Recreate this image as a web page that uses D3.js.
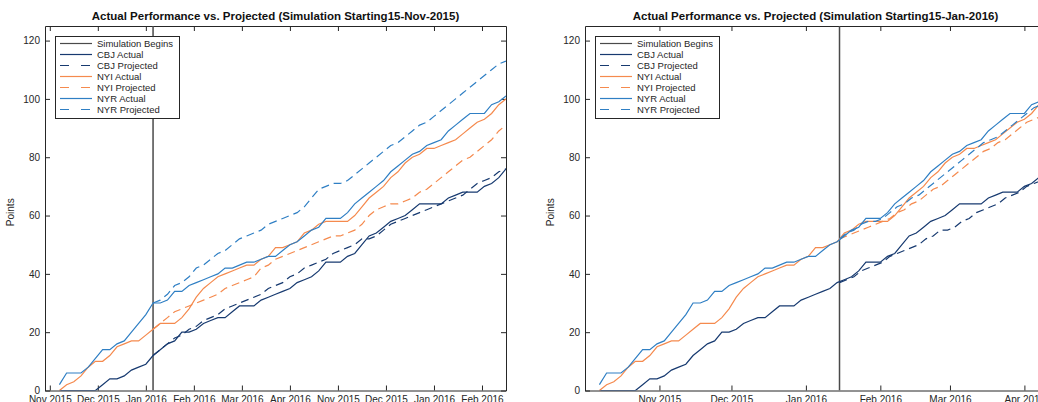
<!DOCTYPE html>
<html>
<head>
<meta charset="utf-8">
<script src="https://cdn.jsdelivr.net/npm/d3@7"></script>
<style>
  body { margin: 0; background: #fff; }
  text { font-family: "Liberation Sans", Arial, Helvetica, sans-serif; }
</style>
</head>
<body>
<script>
// ---- data (cumulative points, sampled every 3 days) ----
const teams = ["CBJ", "NYI", "NYR"];
const seasonStart = "2015-10-07";
const cbjActual = [0,0,0,0,0,0,2,4,4,5, 7,8,9,12,14,16,17,20,20,21, 23,24,25,25,27,29,29,29,31,32,
                   33,34,35,37,38,39,41,44,44,44, 46,47,50,53,54,56,58,59,60,62, 64,64,64,64,66,67,68,68,68,70, 71,73,76];
const nyiActual = [0,2,3,5,8,10,10,12,15,16, 17,17,19,21,23,23,23,25,28,32, 35,37,39,40,41,42,43,43,45,46,
                   49,49,50,51,54,55,57,58,58,58, 58,60,63,66,68,70,73,75,78,80, 81,83,83,84,85,86,88,90,92,93, 95,98,100];
const nyrActual = [2,6,6,6,8,11,14,14,16,17, 20,23,26,30,30,31,34,34,36,37, 38,39,40,42,42,43,44,44,45,46,
                   46,48,50,51,53,55,56,59,59,59, 61,64,66,68,70,72,75,77,79,81, 82,84,85,86,89,91,93,95,95,95, 98,99,101];

// simulation starting 15-Nov-2015
const simStartA = "2015-11-15";
const cbjProjA = [12,14,16,18,19,21,22,24,25,26, 28,29,30,31,32,33,35,36,37,39, 40,42,43,44,45,47,48,49,50,52,
                  52,53,55,57,58,59,60,61,62,63, 64,65,66,67,69,71,72,73,75,76];
const nyiProjA = [21,23,25,27,28,29,30,31,32,33, 35,36,37,38,39,42,43,45,46,47, 48,49,50,51,52,53,53,54,55,57,
                  60,62,63,64,64,65,66,68,69,71, 73,75,77,79,80,82,84,86,89,91];
const nyrProjA = [30,31,33,36,37,39,42,43,45,47, 48,50,52,53,54,55,57,58,59,60, 61,63,66,69,70,71,71,72,74,76,
                  78,80,82,84,85,87,89,91,92,94, 96,98,100,102,104,106,108,110,112,113];

// simulation starting 15-Jan-2016
const simStartB = "2016-01-15";
const cbjProjB = [37,38,39,41,42,43,44,46,47,48, 49,50,52,53,55,55,56,58,59,61, 62,63,64,66,67,68,70,71,72];
const nyiProjB = [52,53,54,55,56,57,58,59,61,62, 64,65,67,69,70,72,74,76,78,80, 82,83,85,86,88,90,92,93,94];
const nyrProjB = [52,54,55,57,58,58,59,61,63,64, 66,67,69,71,73,75,77,79,81,83, 85,86,87,89,91,93,95,97,98];

const yTicks = [0, 20, 40, 60, 80, 100, 120];
const leftTickStart = "2015-10-03";
const leftTickLabels = ["Nov 2015","Dec 2015","Jan 2016","Feb 2016","Mar 2016","Apr 2016",
                        "Nov 2015","Dec 2015","Jan 2016","Feb 2016"];
const rightTickMonths = ["2015-11-01","2015-12-01","2016-01-01","2016-02-01","2016-03-01","2016-04-01"];
const legendLabels = ["Simulation Begins","CBJ Actual","CBJ Projected","NYI Actual","NYI Projected","NYR Actual","NYR Projected"];

// ---- setup ----
const W = 1038, H = 402;
const parse = d3.timeParse("%Y-%m-%d");
const colors = { CBJ: "#173a70", NYI: "#f58a4e", NYR: "#2f7fc4" };
const simColor = "#4a4a4a";
const axisColor = "#262626";
const dash = "8,5";

function dates(start, n) {
  return d3.range(n).map(i => d3.timeDay.offset(parse(start), i * 3));
}

const actual = { CBJ: cbjActual, NYI: nyiActual, NYR: nyrActual };
const actualDates = dates(seasonStart, cbjActual.length);

const panels = [
  {
    left: 45, title: "Actual Performance vs. Projected (Simulation Starting15-Nov-2015)",
    sim: simStartA, proj: { CBJ: cbjProjA, NYI: nyiProjA, NYR: nyrProjA },
    tickValues: d3.range(leftTickLabels.length).map(i => d3.timeDay.offset(parse(leftTickStart), 20 * i)),
    tickFormat: (d, i) => leftTickLabels[i]
  },
  {
    left: 585, title: "Actual Performance vs. Projected (Simulation Starting15-Jan-2016)",
    sim: simStartB, proj: { CBJ: cbjProjB, NYI: nyiProjB, NYR: nyrProjB },
    tickValues: rightTickMonths.map(parse),
    tickFormat: d3.timeFormat("%b %Y")
  }
];

const plotW = 461, plotTop = 26, plotBottom = 390.5;

const svg = d3.select("body").append("svg")
  .attr("width", W).attr("height", H)
  .style("display", "block");

panels.forEach((p, pi) => {
  const x = d3.scaleTime()
    .domain([parse("2015-10-01"), parse("2016-04-10")])
    .range([p.left, p.left + plotW]);
  const y = d3.scaleLinear().domain([0, 125]).range([plotBottom, plotTop]);

  const g = svg.append("g").attr("class", "panel");

  // clip
  const clipId = "clip" + pi;
  svg.append("clipPath").attr("id", clipId)
    .append("rect").attr("x", p.left).attr("y", plotTop)
    .attr("width", plotW).attr("height", plotBottom - plotTop);

  // axes (MATLAB style, inward ticks on all four sides)
  const styleAxis = sel => {
    sel.select(".domain").attr("stroke", axisColor).attr("stroke-width", 1);
    sel.selectAll(".tick line").attr("stroke", axisColor);
    sel.selectAll("text").attr("fill", axisColor).style("font-size", "10px")
      .style("font-family", '"Liberation Sans", Arial, sans-serif');
  };

  g.append("g")
    .attr("transform", `translate(0,${plotBottom})`)
    .call(d3.axisBottom(x).tickValues(p.tickValues).tickFormat(p.tickFormat)
      .tickSizeInner(-5).tickSizeOuter(0).tickPadding(5))
    .call(styleAxis);
  g.append("g")
    .attr("transform", `translate(0,${plotTop})`)
    .call(d3.axisTop(x).tickValues(p.tickValues).tickFormat("")
      .tickSizeInner(-5).tickSizeOuter(0))
    .call(styleAxis);
  g.append("g")
    .attr("transform", `translate(${p.left},0)`)
    .call(d3.axisLeft(y).tickValues(yTicks).tickSizeInner(-5).tickSizeOuter(0).tickPadding(5))
    .call(styleAxis);
  g.append("g")
    .attr("transform", `translate(${p.left + plotW},0)`)
    .call(d3.axisRight(y).tickValues(yTicks).tickFormat("").tickSizeInner(-5).tickSizeOuter(0))
    .call(styleAxis);

  // y label
  g.append("text")
    .attr("transform", `translate(${p.left - 31},${(plotTop + plotBottom) / 2 + 4}) rotate(-90)`)
    .attr("text-anchor", "middle")
    .attr("fill", axisColor)
    .style("font-size", "10px")
    .text("Points");

  // title
  g.append("text")
    .attr("x", p.left + plotW / 2).attr("y", 20)
    .attr("text-anchor", "middle")
    .attr("fill", "#111")
    .style("font-size", "11.5px").style("font-weight", "bold")
    .text(p.title);

  const plot = g.append("g").attr("clip-path", `url(#${clipId})`);

  // simulation begins
  const simDate = parse(p.sim);
  plot.append("line")
    .attr("x1", x(simDate)).attr("x2", x(simDate))
    .attr("y1", y(0)).attr("y2", plotTop)
    .attr("stroke", simColor).attr("stroke-width", 1.5);

  const line = d3.line()
    .x(d => x(d[0]))
    .y(d => y(d[1]));

  teams.forEach(t => {
    plot.append("path")
      .attr("d", line(actualDates.map((d, i) => [d, actual[t][i]])))
      .attr("fill", "none").attr("stroke", colors[t]).attr("stroke-width", 1.2);
    const pd = dates(p.sim, p.proj[t].length);
    plot.append("path")
      .attr("d", line(pd.map((d, i) => [d, p.proj[t][i]])))
      .attr("fill", "none").attr("stroke", colors[t]).attr("stroke-width", 1.2)
      .attr("stroke-dasharray", dash);
  });

  // legend
  const lg = g.append("g").attr("transform", `translate(${p.left + 10},36)`);
  lg.append("rect").attr("x", 0.5).attr("y", 0.5)
    .attr("width", 124).attr("height", 82)
    .attr("fill", "#fff").attr("stroke", axisColor).attr("stroke-width", 1);
  const legendColors = [simColor, colors.CBJ, colors.CBJ, colors.NYI, colors.NYI, colors.NYR, colors.NYR];
  legendLabels.forEach((lab, i) => {
    const yy = 7.5 + i * 11;
    lg.append("line")
      .attr("x1", 5).attr("x2", 37).attr("y1", yy).attr("y2", yy)
      .attr("stroke", legendColors[i]).attr("stroke-width", 1.2)
      .attr("stroke-dasharray", i > 0 && i % 2 === 0 ? "9,12" : null);
    lg.append("text")
      .attr("x", 42).attr("y", yy + 3.5)
      .attr("fill", axisColor)
      .style("font-size", "9.5px")
      .text(lab);
  });
});
</script>
</body>
</html>
